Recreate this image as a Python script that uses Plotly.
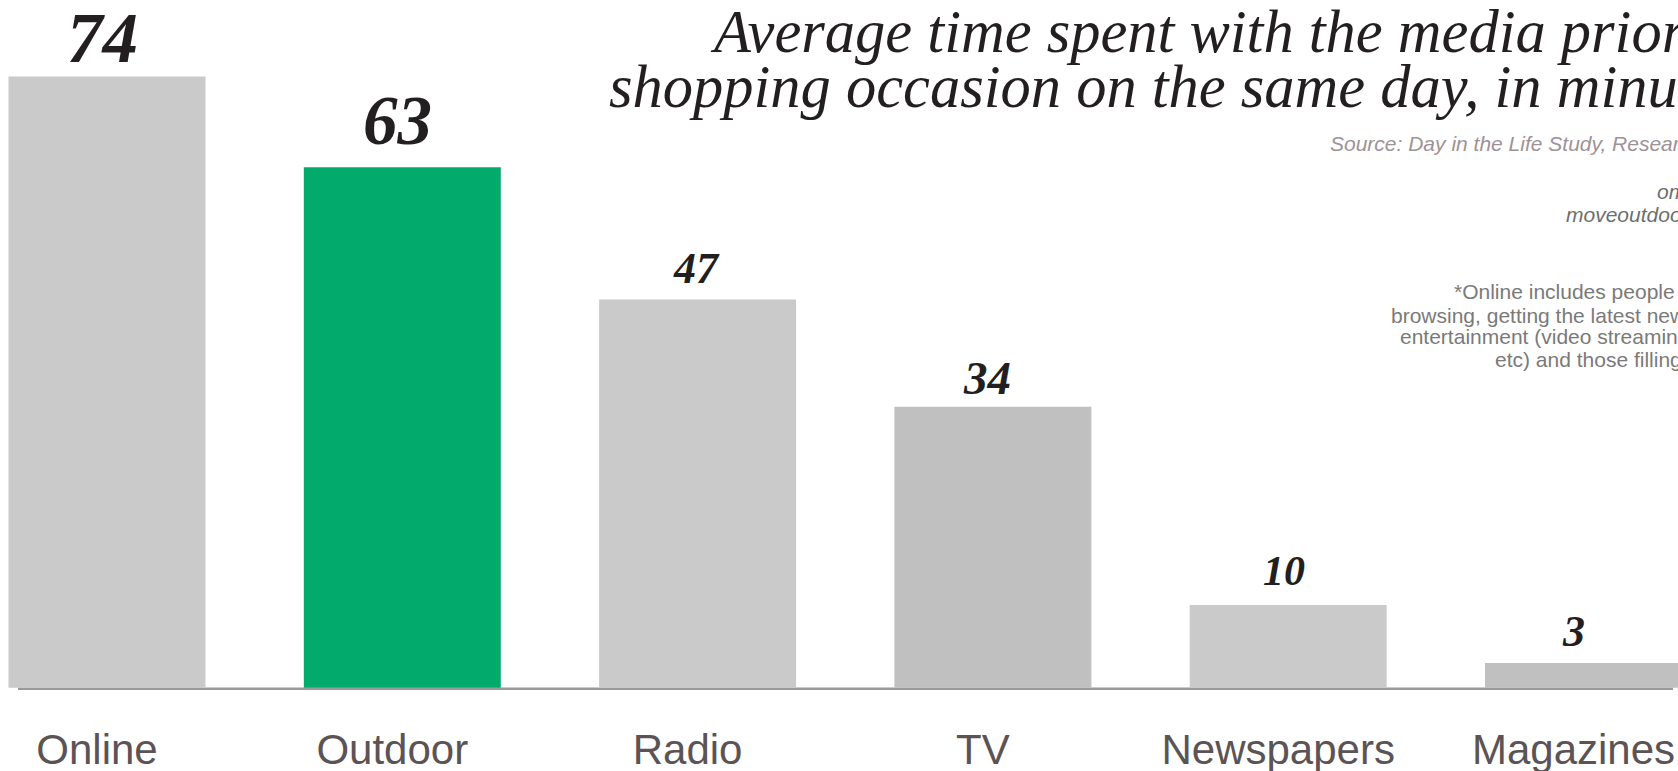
import plotly.graph_objects as go

# ---- data ----
categories = ["Online", "Outdoor", "Radio", "TV", "Newspapers", "Magazines"]
minutes = [74, 63, 47, 34, 10, 3]

title_lines = [
    "Average time spent with the media prior to a",
    "shopping occasion on the same day, in minutes",
]
source_text = "Source: Day in the Life Study, Research Now"
link_lines = ["oma.org.au", "moveoutdoor.com.au"]
note_lines = [
    "*Online includes people using the",
    "browsing, getting the latest news, social",
    "entertainment (video streaming, gaming",
    "etc) and those filling in time",
]

# ---- styles ----
bar_colors = ["#cacaca", "#02aa6c", "#cacaca", "#c0c0c0", "#cacaca", "#c0c0c0"]
label_sizes = [71, 69, 44, 47, 42, 44]
label_yshift = [38.5, 46, 31, 29, 34, 31]
label_xshift = [-5, -5, -1.5, -5.5, -4.5, -10.5]

W, H = 1678, 771
M_T, M_B = 20, 81
plot_h = H - M_T - M_B
px_per_unit = 8.26
zero_offset = 2.3
y_lo = -zero_offset / px_per_unit
y_hi = y_lo + plot_h / px_per_unit

pitch = 295.3
first_center = 107.0
x_lo = -first_center / pitch
x_hi = (W - first_center) / pitch


def pp(xpx, ypx):
    return xpx / W, (H - M_B - ypx) / plot_h


fig = go.Figure()
fig.add_trace(go.Bar(
    x=categories, y=minutes,
    marker=dict(color=bar_colors, line=dict(width=0)),
    hoverinfo="skip",
))

annotations = []
for i, (c, v) in enumerate(zip(categories, minutes)):
    annotations.append(dict(
        x=c, y=v, xref="x", yref="y", text=str(v), showarrow=False,
        xanchor="center", yanchor="middle",
        xshift=label_xshift[i], yshift=label_yshift[i],
        font=dict(family="Liberation Serif", size=label_sizes[i],
                  color="#231f20", weight="bold", style="italic"),
    ))

# title lines
for (txt, xs, yc) in zip(title_lines, [708, 607], [31, 86]):
    x, y = pp(xs, yc)
    annotations.append(dict(
        x=x, y=y, xref="paper", yref="paper", text=txt, showarrow=False,
        xanchor="left", yanchor="middle",
        font=dict(family="Liberation Serif", size=60.5, color="#231f20",
                  style="italic"),
    ))

# source
x, y = pp(1328, 143.4)
annotations.append(dict(
    x=x, y=y, xref="paper", yref="paper", text=source_text, showarrow=False,
    xanchor="left", yanchor="middle",
    font=dict(family="Liberation Sans", size=21, color="#9e9297", style="italic"),
))

for (txt, xs, yc) in zip(link_lines, [1655, 1563.5], [191.5, 214]):
    x, y = pp(xs, yc)
    annotations.append(dict(
        x=x, y=y, xref="paper", yref="paper", text=txt, showarrow=False,
        xanchor="left", yanchor="middle",
        font=dict(family="Liberation Sans", size=21, color="#6e6e6e",
                  style="italic"),
    ))

for (txt, xs, yc) in zip(note_lines, [1452, 1389, 1398, 1493],
                         [291, 315.7, 337, 359.6]):
    x, y = pp(xs, yc)
    annotations.append(dict(
        x=x, y=y, xref="paper", yref="paper", text=txt, showarrow=False,
        xanchor="left", yanchor="middle",
        font=dict(family="Liberation Sans", size=21, color="#7a7a7a"),
    ))

fig.update_layout(
    width=W, height=H,
    margin=dict(l=0, r=0, t=M_T, b=M_B, pad=0, autoexpand=False),
    paper_bgcolor="white", plot_bgcolor="white",
    bargap=0.333,
    showlegend=False,
    annotations=annotations,
    shapes=[dict(
        type="line", xref="x", yref="y",
        x0=(18 - first_center) / pitch, x1=(1673 - first_center) / pitch,
        y0=-0.14, y1=-0.14,
        line=dict(color="#9a9a9a", width=2.5), layer="below",
    )],
    xaxis=dict(
        range=[x_lo, x_hi], showgrid=False, zeroline=False, showline=False,
        ticks="", ticklabelstandoff=31, ticklabelshift=-10, automargin=False,
        tickfont=dict(family="Liberation Sans", size=42, color="#5c5355"),
        fixedrange=True,
    ),
    yaxis=dict(range=[y_lo, y_hi], visible=False, fixedrange=True,
               automargin=False),
)

fig.write_html("out.html", config={"displayModeBar": False})
